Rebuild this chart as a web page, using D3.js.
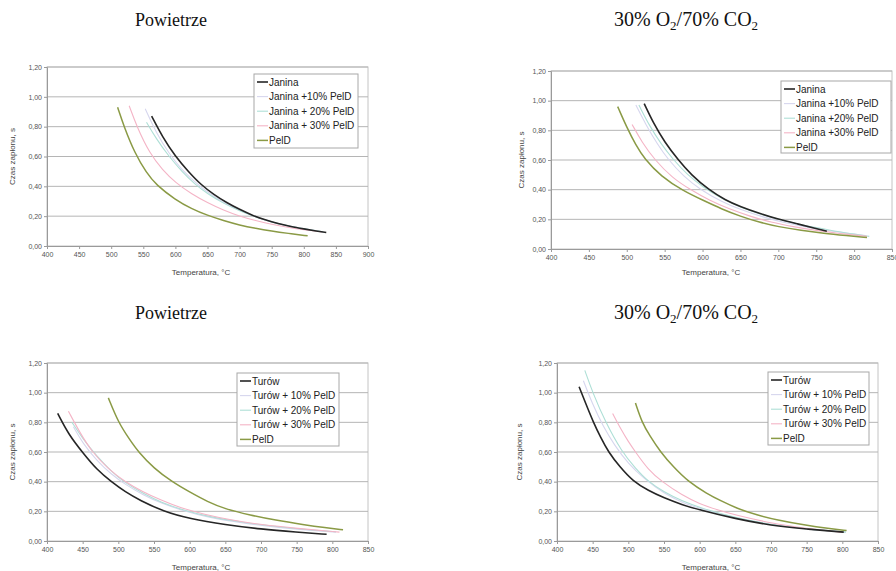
<!DOCTYPE html>
<html>
<head>
<meta charset="utf-8">
<script src="https://cdn.jsdelivr.net/npm/d3@7"></script>
<style>
  body { margin: 0; background: #fff; }
  svg { display: block; }
</style>
</head>
<body>
<svg id="chart" width="896" height="571"></svg>
<script>
// ticks
const yTicks = [0, 0.2, 0.4, 0.6, 0.8, 1.0, 1.2];
const xTicks900 = [400, 450, 500, 550, 600, 650, 700, 750, 800, 850, 900];
const xTicks850 = [400, 450, 500, 550, 600, 650, 700, 750, 800, 850];

const janinaLabelsAir = ['Janina', 'Janina +10% PelD', 'Janina + 20% PelD', 'Janina + 30% PelD', 'PelD'];
const janinaLabelsOxy = ['Janina', 'Janina +10% PelD', 'Janina +20% PelD', 'Janina +30% PelD', 'PelD'];
const turowLabels = ['Turów', 'Turów + 10% PelD', 'Turów + 20% PelD', 'Turów + 30% PelD', 'PelD'];

// [temperatura °C, czas zapłonu s]
// Powietrze - Janina
const airJanina = [[563,0.87],[580,0.73],[600,0.60],[620,0.50],[640,0.41],[660,0.345],[680,0.29],[700,0.245],[720,0.205],[740,0.175],[760,0.15],[780,0.13],[800,0.115],[820,0.10],[835,0.09]];
const airJanina10 = [[553,0.92],[570,0.76],[590,0.62],[610,0.51],[630,0.43],[650,0.36],[675,0.29],[700,0.24],[725,0.195],[750,0.16],[775,0.135],[800,0.115],[830,0.095]];
const airJanina20 = [[555,0.83],[570,0.72],[590,0.60],[610,0.50],[630,0.415],[650,0.35],[675,0.285],[700,0.235],[725,0.195],[750,0.16],[775,0.135],[800,0.115],[830,0.095]];
const airJanina30 = [[528,0.94],[540,0.80],[560,0.62],[580,0.51],[600,0.425],[625,0.35],[650,0.29],[675,0.24],[700,0.20],[725,0.17],[750,0.145],[775,0.125],[800,0.108],[828,0.095]];
const airJaninaPelD = [[510,0.93],[520,0.80],[537,0.62],[555,0.49],[570,0.41],[600,0.31],[625,0.25],[650,0.205],[675,0.17],[700,0.14],[725,0.118],[750,0.10],[775,0.085],[806,0.068]];

// 30% O2/70% CO2 - Janina
const oxyJanina = [[523,0.98],[535,0.85],[550,0.72],[568,0.60],[585,0.50],[608,0.40],[630,0.33],[650,0.285],[675,0.24],[700,0.20],[725,0.17],[750,0.138],[764,0.12]];
const oxyJanina10 = [[512,0.97],[525,0.84],[540,0.71],[555,0.60],[575,0.49],[597,0.40],[625,0.32],[650,0.265],[680,0.215],[710,0.175],[740,0.145],[770,0.12],[800,0.10],[815,0.09]];
const oxyJanina20 = [[516,0.97],[530,0.83],[545,0.71],[560,0.61],[580,0.50],[600,0.42],[625,0.34],[650,0.28],[685,0.22],[720,0.175],[750,0.145],[780,0.115],[800,0.10],[820,0.085]];
const oxyJanina30 = [[507,0.84],[520,0.72],[537,0.60],[560,0.48],[584,0.40],[610,0.325],[635,0.27],[663,0.22],[690,0.18],[720,0.15],[750,0.125],[780,0.105],[817,0.085]];
const oxyJaninaPelD = [[488,0.96],[500,0.82],[512,0.70],[523,0.61],[545,0.49],[575,0.39],[600,0.33],[625,0.27],[650,0.22],[675,0.18],[700,0.15],[730,0.125],[760,0.105],[790,0.09],[817,0.077]];

// Powietrze - Turów
const airTurow = [[415,0.86],[430,0.72],[451,0.59],[470,0.48],[490,0.40],[510,0.33],[530,0.275],[563,0.20],[600,0.15],[650,0.11],[700,0.08],[750,0.06],[792,0.045]];
const airTurow10 = [[437,0.77],[450,0.66],[470,0.54],[490,0.45],[510,0.38],[535,0.31],[560,0.255],[590,0.205],[625,0.16],[675,0.12],[725,0.09],[775,0.07],[805,0.06]];
const airTurow20 = [[435,0.80],[450,0.69],[470,0.57],[490,0.47],[510,0.39],[535,0.32],[560,0.26],[590,0.21],[625,0.165],[675,0.125],[725,0.095],[775,0.072],[805,0.062]];
const airTurow30 = [[430,0.875],[445,0.74],[463,0.60],[485,0.49],[509,0.40],[535,0.33],[560,0.275],[586,0.225],[620,0.18],[660,0.14],[700,0.11],[750,0.085],[810,0.06]];
const airTurowPelD = [[486,0.965],[500,0.80],[515,0.69],[528,0.60],[550,0.49],[575,0.40],[600,0.33],[625,0.265],[650,0.215],[685,0.175],[720,0.14],[760,0.11],[790,0.09],[815,0.076]];

// 30% O2/70% CO2 - Turów
const oxyTurow = [[431,1.04],[440,0.93],[451,0.80],[461,0.70],[472,0.60],[488,0.50],[507,0.40],[528,0.34],[550,0.29],[575,0.245],[600,0.21],[650,0.15],[700,0.105],[750,0.08],[802,0.06]];
const oxyTurow10 = [[437,1.08],[450,0.92],[465,0.77],[480,0.65],[500,0.52],[522,0.42],[550,0.32],[575,0.26],[600,0.22],[650,0.155],[700,0.11],[750,0.08],[805,0.06]];
const oxyTurow20 = [[439,1.15],[450,1.00],[468,0.80],[491,0.60],[510,0.49],[528,0.40],[550,0.33],[575,0.27],[600,0.225],[650,0.155],[700,0.11],[750,0.08],[805,0.06]];
const oxyTurow30 = [[478,0.86],[490,0.75],[500,0.67],[510,0.60],[528,0.48],[547,0.40],[575,0.31],[600,0.25],[625,0.21],[650,0.175],[700,0.12],[750,0.085],[800,0.058]];
const oxyTurowPelD = [[510,0.93],[519,0.80],[530,0.71],[545,0.60],[563,0.50],[584,0.40],[610,0.32],[630,0.27],[652,0.22],[680,0.175],[710,0.14],[750,0.105],[780,0.085],[806,0.07]];

const colors = ['#262626', '#d6d6ee', '#aedfd6', '#f4b4c6', '#8a9a45'];
const widths = [1.6, 1.1, 1.1, 1.1, 1.5];

const panels = [
  { left: 47, right: 368, top: 67, bottom: 246, xMax: 900, xTicks: xTicks900,
    labels: janinaLabelsAir, series: [airJanina, airJanina10, airJanina20, airJanina30, airJaninaPelD],
    legend: { x: 254, y: 74, w: 104, h: 74 }, xTitleX: 201, xTitleY: 275, yTitleX: 15 },
  { left: 551, right: 892, top: 71, bottom: 249, xMax: 850, xTicks: xTicks850,
    labels: janinaLabelsOxy, series: [oxyJanina, oxyJanina10, oxyJanina20, oxyJanina30, oxyJaninaPelD],
    legend: { x: 781, y: 81, w: 110, h: 72 }, xTitleX: 711, xTitleY: 275, yTitleX: 524 },
  { left: 47, right: 368, top: 363, bottom: 541, xMax: 850, xTicks: xTicks850,
    labels: turowLabels, series: [airTurow, airTurow10, airTurow20, airTurow30, airTurowPelD],
    legend: { x: 237, y: 373, w: 102, h: 73 }, xTitleX: 201, xTitleY: 570, yTitleX: 15 },
  { left: 557, right: 878, top: 363, bottom: 541, xMax: 850, xTicks: xTicks850,
    labels: turowLabels, series: [oxyTurow, oxyTurow10, oxyTurow20, oxyTurow30, oxyTurowPelD],
    legend: { x: 768, y: 372, w: 101, h: 73 }, xTitleX: 711, xTitleY: 570, yTitleX: 522 }
];

const svg = d3.select('#chart');
const fmt = d => d.toFixed(2).replace('.', ',');

// titles above the panels
function title(x, y, size) {
  return svg.append('text')
    .attr('x', x).attr('y', y)
    .attr('font-family', '"Liberation Serif", "Times New Roman", serif')
    .attr('font-size', size)
    .attr('fill', '#111');
}
[26, 319].forEach(y => {
  title(135, y, 18).text('Powietrze');
  const t = title(614, y, 20);
  t.append('tspan').text('30% O');
  t.append('tspan').attr('dy', 4).attr('font-size', 13).text('2');
  t.append('tspan').attr('dy', -4).text('/70% CO');
  t.append('tspan').attr('dy', 4).attr('font-size', 13).text('2');
});

panels.forEach(p => {
  const g = svg.append('g');
  const x = d3.scaleLinear().domain([400, p.xMax]).range([p.left, p.right]);
  const y = d3.scaleLinear().domain([0, 1.2]).range([p.bottom, p.top]);

  // plot area frame
  g.append('rect')
    .attr('x', p.left).attr('y', p.top)
    .attr('width', p.right - p.left).attr('height', p.bottom - p.top)
    .attr('fill', '#fff').attr('stroke', '#c4c4c4').attr('stroke-width', 1);

  // horizontal gridlines
  g.selectAll('line.grid')
    .data(yTicks.slice(1))
    .enter().append('line')
    .attr('class', 'grid')
    .attr('x1', p.left).attr('x2', p.right)
    .attr('y1', d => y(d)).attr('y2', d => y(d))
    .attr('stroke', '#b5b5b5').attr('stroke-width', 1);

  // axes
  const xAxis = d3.axisBottom(x).tickValues(p.xTicks).tickSize(3).tickPadding(3).tickFormat(d3.format('d'));
  const yAxis = d3.axisLeft(y).tickValues(yTicks).tickSize(3).tickPadding(2).tickFormat(fmt);

  const gx = g.append('g').attr('transform', 'translate(0,' + p.bottom + ')').call(xAxis);
  const gy = g.append('g').attr('transform', 'translate(' + p.left + ',0)').call(yAxis);
  [gx, gy].forEach(a => {
    a.select('.domain').attr('stroke', '#9a9a9a');
    a.selectAll('.tick line').attr('stroke', '#9a9a9a');
    a.selectAll('.tick text')
      .attr('fill', '#555')
      .attr('font-family', 'Arial, "Liberation Sans", sans-serif')
      .attr('font-size', 7);
  });

  // axis titles
  g.append('text')
    .attr('x', p.xTitleX).attr('y', p.xTitleY)
    .attr('text-anchor', 'middle')
    .attr('font-family', 'Arial, "Liberation Sans", sans-serif')
    .attr('font-size', 8).attr('fill', '#444')
    .text('Temperatura, °C');
  g.append('text')
    .attr('transform', 'translate(' + p.yTitleX + ',' + (p.top + p.bottom) / 2 + ') rotate(-90)')
    .attr('text-anchor', 'middle')
    .attr('font-family', 'Arial, "Liberation Sans", sans-serif')
    .attr('font-size', 8).attr('fill', '#444')
    .text('Czas zapłonu, s');

  // curves, smoothed like the spreadsheet trend lines
  const line = d3.line()
    .x(d => x(d[0]))
    .y(d => y(d[1]))
    .curve(d3.curveBasis);

  // light series first, black on top
  [1, 2, 3, 4, 0].forEach(i => {
    g.append('path')
      .attr('d', line(p.series[i]))
      .attr('fill', 'none')
      .attr('stroke', colors[i])
      .attr('stroke-width', widths[i]);
  });

  // legend
  const lg = g.append('g').attr('transform', 'translate(' + p.legend.x + ',' + p.legend.y + ')');
  lg.append('rect')
    .attr('width', p.legend.w).attr('height', p.legend.h)
    .attr('fill', '#fff').attr('stroke', '#a8a8a8').attr('stroke-width', 1);
  p.labels.forEach((lab, i) => {
    const ry = 8 + i * 14.6;
    lg.append('line')
      .attr('x1', 3).attr('x2', 14)
      .attr('y1', ry).attr('y2', ry)
      .attr('stroke', colors[i]).attr('stroke-width', widths[i]);
    lg.append('text')
      .attr('x', 15).attr('y', ry + 3.6)
      .attr('font-family', 'Arial, "Liberation Sans", sans-serif')
      .attr('font-size', 10).attr('fill', '#222')
      .text(lab);
  });
});
</script>
</body>
</html>
